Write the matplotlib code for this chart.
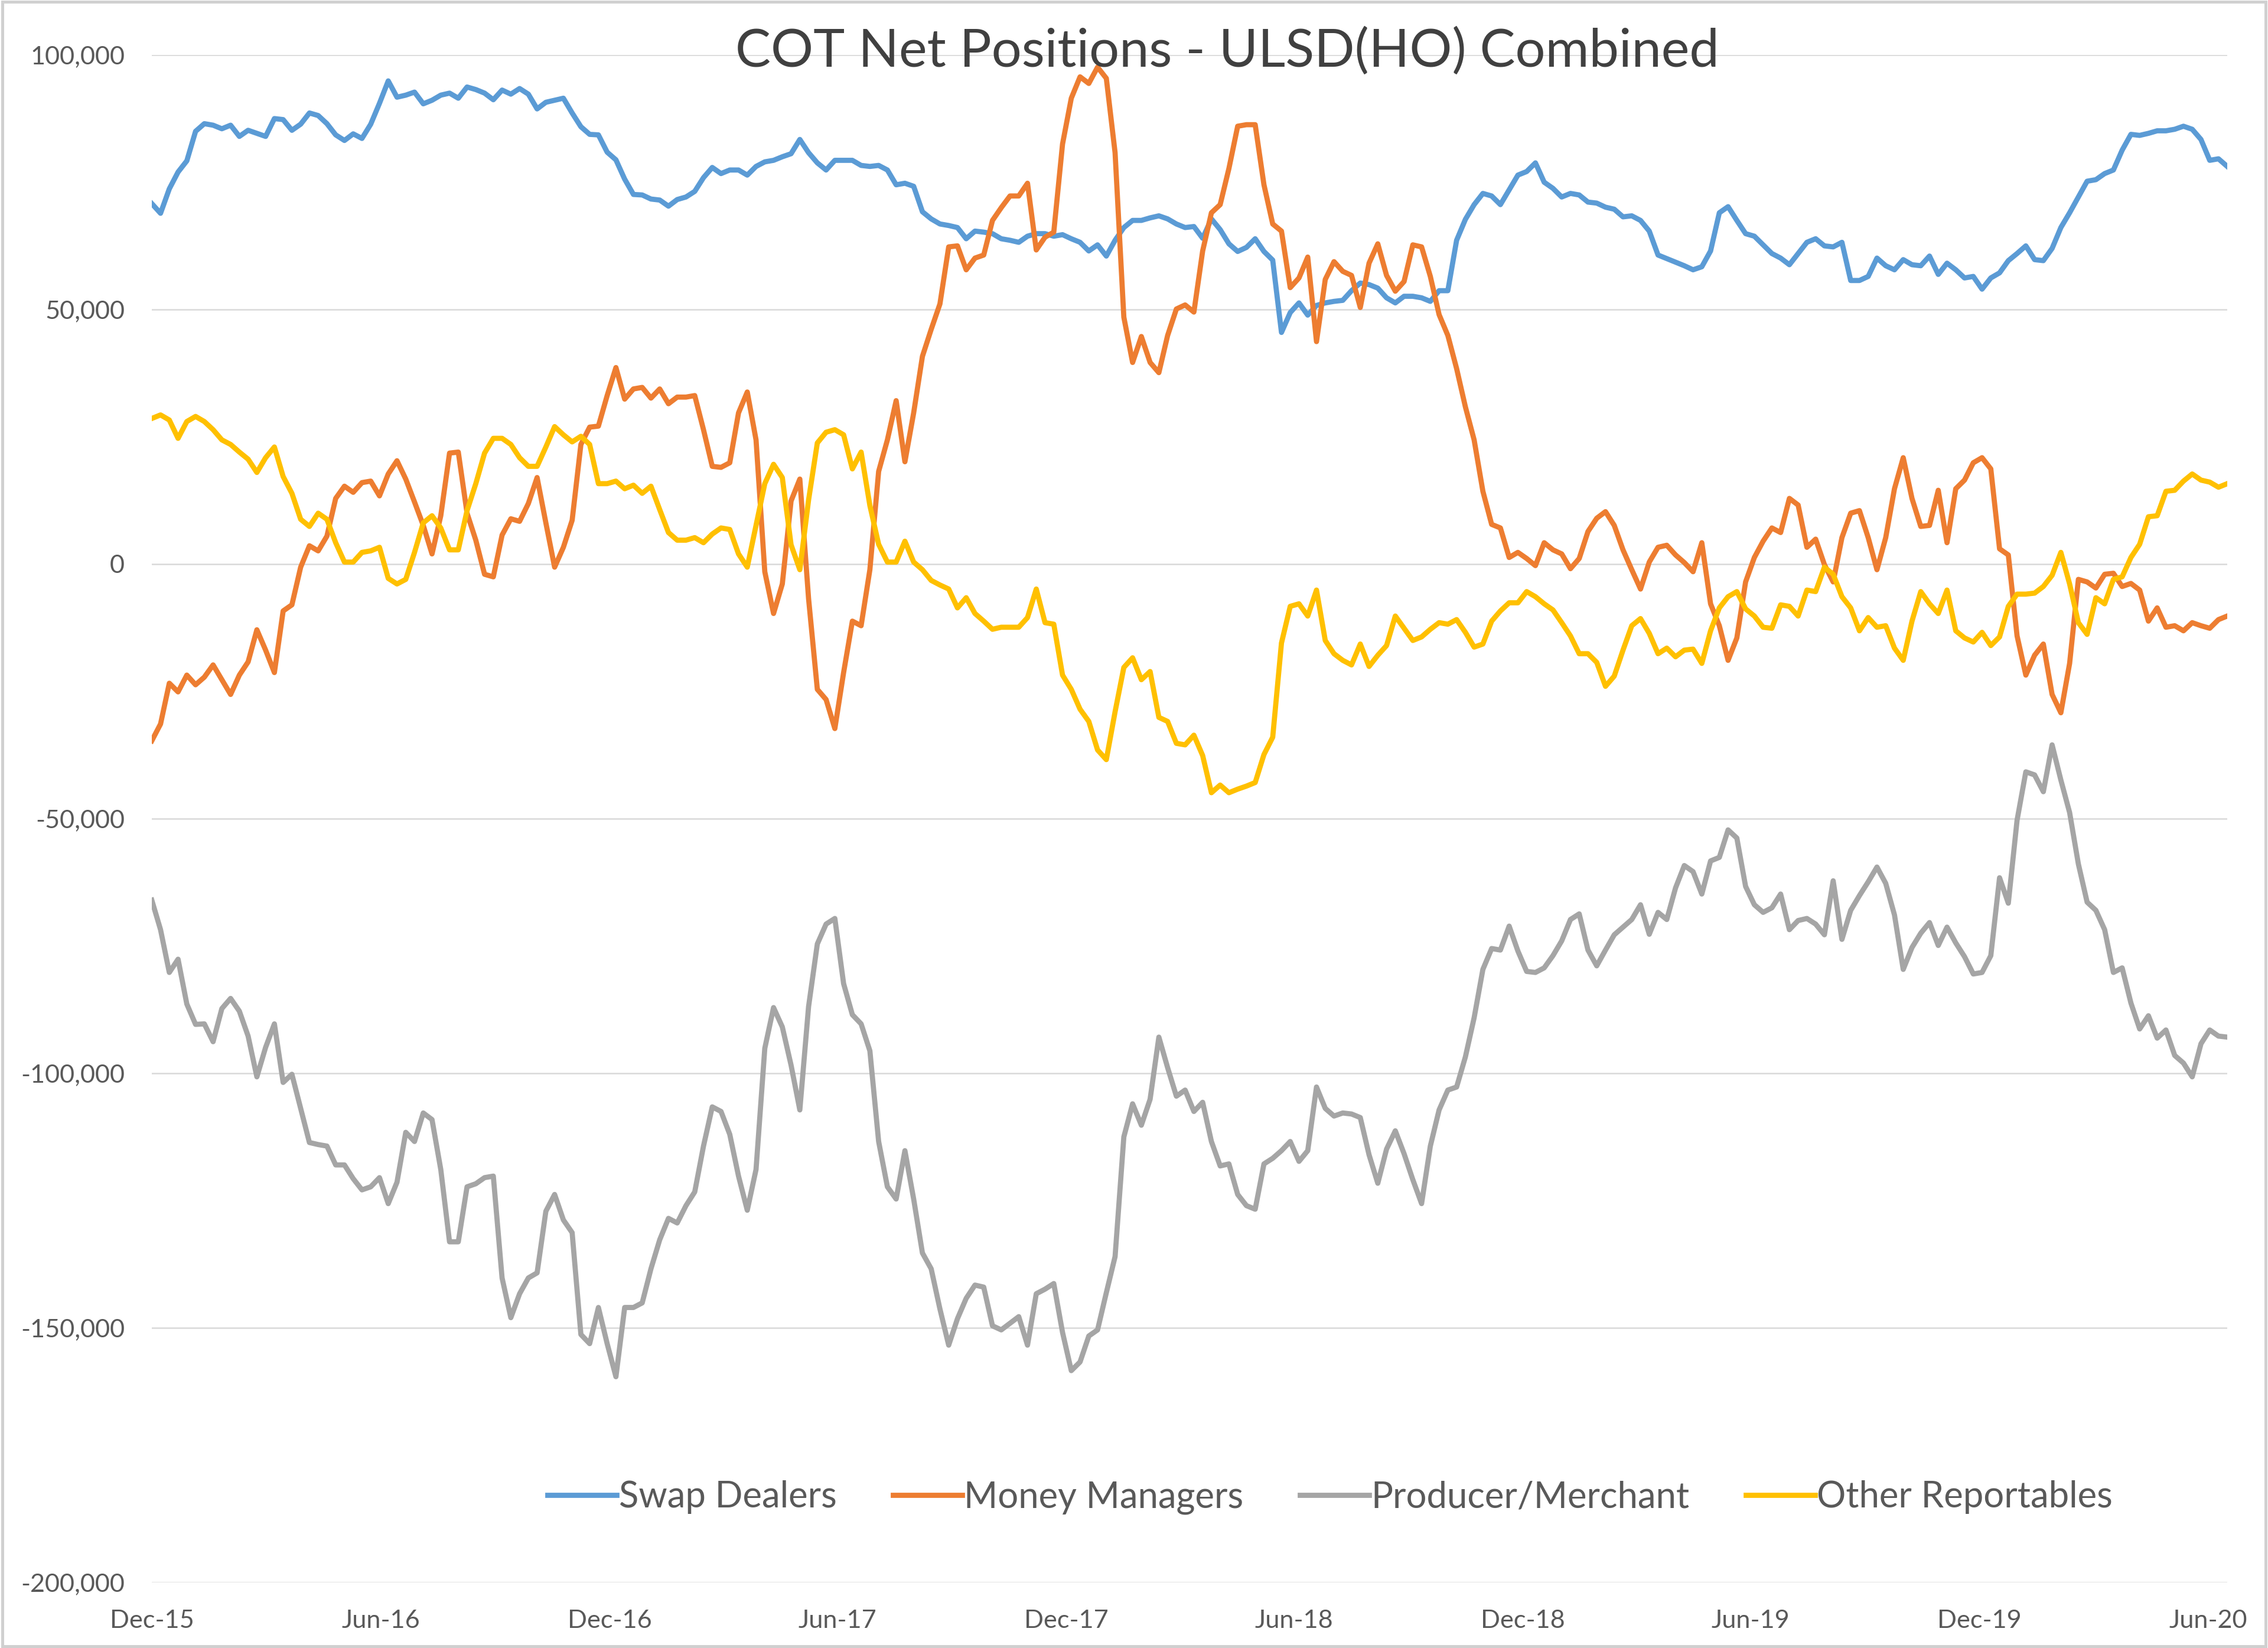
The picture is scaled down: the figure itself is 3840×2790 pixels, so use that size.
import numpy as np
import pandas as pd
import matplotlib
matplotlib.use("Agg")
import matplotlib.pyplot as plt
from matplotlib.ticker import FuncFormatter, MultipleLocator
from matplotlib.patches import Rectangle

# -----------------------------
# DATA (net positions, thousands of contracts, weekly from 1 Dec 2015)
# -----------------------------
start_date = "2015-12-01"

swap_dealers = [
    70.8, 68.9, 73.7, 77.0, 79.2, 85.0, 86.5, 86.2, 85.5, 86.2,
    84.0, 85.2, 84.6, 84.0, 87.5, 87.3, 85.2, 86.4, 88.6, 88.1,
    86.5, 84.3, 83.2, 84.5, 83.6, 86.4, 90.5, 94.9, 91.7, 92.1,
    92.7, 90.4, 91.1, 92.1, 92.5, 91.5, 93.7, 93.2, 92.5, 91.2,
    93.1, 92.3, 93.4, 92.3, 89.4, 90.7, 91.1, 91.5, 88.6, 85.9,
    84.4, 84.3, 80.9, 79.4, 75.6, 72.6, 72.5, 71.7, 71.5, 70.3,
    71.6, 72.1, 73.2, 75.9, 77.9, 76.7, 77.4, 77.4, 76.4, 78.1,
    79.0, 79.3, 80.0, 80.6, 83.4, 80.8, 78.8, 77.4, 79.3, 79.3,
    79.3, 78.3, 78.1, 78.3, 77.4, 74.5, 74.8, 74.2, 69.2, 67.8,
    66.8, 66.5, 66.1, 63.9, 65.4, 65.2, 64.9, 63.9, 63.6, 63.2,
    64.4, 64.9, 64.9, 64.4, 64.7, 63.9, 63.2, 61.5, 62.7, 60.5,
    63.6, 66.1, 67.5, 67.5, 68.0, 68.4, 67.8, 66.8, 66.1, 66.3,
    64.0, 67.8, 65.7, 62.9, 61.4, 62.2, 63.9, 61.4, 59.7, 45.5,
    49.4, 51.3, 48.9, 50.8, 51.3, 51.6, 51.8, 53.7, 55.2, 54.9,
    54.2, 52.3, 51.3, 52.6, 52.6, 52.3, 51.6, 53.7, 53.7, 63.6,
    67.7, 70.6, 72.8, 72.3, 70.6, 73.5, 76.4, 77.1, 78.8, 75.0,
    73.8, 72.1, 72.8, 72.5, 71.1, 70.9, 70.1, 69.7, 68.2, 68.4,
    67.5, 65.4, 60.7, 60.0, 59.3, 58.6, 57.8, 58.4, 61.5, 69.0,
    70.2, 67.5, 64.9, 64.4, 62.7, 61.0, 60.1, 58.8, 61.0, 63.2,
    63.9, 62.5, 62.3, 63.2, 55.7, 55.7, 56.5, 60.1, 58.6, 57.8,
    59.8, 58.8, 58.6, 60.5, 56.9, 59.1, 57.8, 56.2, 56.5, 54.0,
    56.2, 57.2, 59.6, 61.0, 62.5, 59.8, 59.6, 62.0, 66.1, 69.0,
    72.1, 75.2, 75.5, 76.7, 77.4, 81.3, 84.4, 84.2, 84.6, 85.1,
    85.1, 85.4, 86.0, 85.4, 83.4, 79.3, 79.6, 78.1,
]

money_managers = [
    -34.7, -31.4, -23.4, -25.1, -21.8, -23.7, -22.2, -19.8, -22.7, -25.6,
    -21.8, -19.2, -12.9, -16.9, -21.3, -9.2, -8.0, -0.6, 3.6, 2.6,
    5.5, 12.9, 15.3, 14.1, 16.0, 16.3, 13.4, 17.7, 20.3, 16.7,
    12.2, 7.6, 2.0, 9.5, 21.8, 22.0, 10.0, 4.7, -2.0, -2.5,
    5.7, 8.9, 8.4, 11.9, 17.0, 8.1, -0.6, 3.3, 8.6, 23.5,
    26.9, 27.1, 33.1, 38.6, 32.4, 34.4, 34.7, 32.6, 34.4, 31.5,
    32.8, 32.8, 33.1, 26.4, 19.2, 19.0, 19.9, 29.7, 33.8, 24.4,
    -1.5, -9.7, -3.9, 12.4, 16.7, -6.8, -24.6, -26.6, -32.3, -21.3,
    -11.2, -12.1, -1.1, 18.2, 24.4, 32.1, 20.1, 29.7, 40.8, 46.1,
    51.1, 62.3, 62.5, 57.8, 60.1, 60.7, 67.5, 70.0, 72.3, 72.3,
    74.8, 61.7, 64.2, 65.2, 82.5, 91.5, 95.7, 94.4, 97.6, 95.4,
    80.8, 48.5, 39.6, 44.7, 39.6, 37.6, 44.9, 50.1, 50.9, 49.5,
    61.5, 69.0, 70.6, 77.7, 86.0, 86.3, 86.3, 74.5, 66.8, 65.4,
    54.3, 56.2, 60.3, 43.7, 55.9, 59.4, 57.5, 56.7, 50.4, 59.1,
    62.9, 56.7, 53.6, 55.5, 62.7, 62.3, 56.5, 49.0, 44.9, 38.4,
    30.9, 24.4, 14.3, 7.8, 7.1, 1.3, 2.3, 1.1, -0.3, 4.2,
    2.8, 2.0, -0.9, 1.1, 6.4, 9.0, 10.3, 7.6, 2.8, -1.1,
    -4.9, 0.4, 3.3, 3.7, 1.8, 0.3, -1.5, 4.2, -7.8, -12.1,
    -18.9, -14.5, -3.5, 1.3, 4.5, 7.1, 6.2, 12.9, 11.6, 3.3,
    4.9, -0.1, -3.5, 5.2, 10.0, 10.5, 5.2, -1.1, 5.2, 14.8,
    20.9, 12.9, 7.4, 7.6, 14.5, 4.2, 14.8, 16.5, 19.9, 20.9,
    18.7, 3.0, 1.8, -14.1, -21.8, -17.9, -15.7, -25.6, -29.2, -19.5,
    -3.0, -3.5, -4.7, -2.0, -1.8, -4.4, -3.8, -5.1, -11.2, -8.6,
    -12.4, -12.1, -13.1, -11.5, -12.1, -12.6, -10.9, -10.2,
]

producer_merchant = [
    -66.0, -71.8, -80.2, -77.6, -86.4, -90.4, -90.3, -93.8, -87.3, -85.3,
    -87.8, -92.7, -100.7, -94.9, -90.3, -101.8, -100.2, -106.9, -113.6, -114.0,
    -114.3, -118.0, -118.0, -120.7, -122.9, -122.3, -120.5, -125.6, -121.4, -111.6,
    -113.4, -107.8, -109.1, -118.9, -133.1, -133.1, -122.3, -121.7, -120.5, -120.2,
    -140.2, -148.0, -143.3, -140.2, -139.2, -127.1, -123.8, -128.8, -131.3, -151.3,
    -153.1, -146.0, -153.1, -159.6, -146.0, -146.0, -145.1, -138.4, -132.7, -128.5,
    -129.4, -126.0, -123.3, -114.3, -106.6, -107.5, -112.0, -120.2, -126.9, -118.9,
    -95.1, -87.1, -90.9, -98.4, -107.2, -86.9, -74.6, -70.7, -69.6, -82.4,
    -88.5, -90.3, -95.6, -113.4, -122.3, -124.7, -115.2, -124.7, -135.3, -138.4,
    -146.3, -153.4, -148.2, -144.2, -141.6, -142.0, -149.6, -150.4, -149.1, -147.8,
    -153.4, -143.3, -142.4, -141.3, -150.9, -158.4, -156.7, -151.6, -150.4, -143.1,
    -136.0, -112.5, -106.0, -110.2, -105.1, -92.9, -98.9, -104.5, -103.3, -107.5,
    -105.7, -113.4, -118.2, -117.8, -123.8, -126.0, -126.7, -117.8, -116.7, -115.2,
    -113.4, -117.3, -115.2, -102.7, -106.9, -108.4, -107.8, -108.0, -108.7, -116.0,
    -121.6, -114.9, -111.3, -115.8, -120.9, -125.6, -114.3, -107.2, -103.3, -102.7,
    -96.8, -89.1, -79.6, -75.5, -75.8, -71.1, -76.0, -80.0, -80.2, -79.3,
    -76.9, -74.0, -69.8, -68.7, -75.8, -78.9, -75.8, -72.8, -71.3, -69.8,
    -66.9, -72.7, -68.4, -69.8, -63.6, -59.2, -60.4, -64.8, -58.3, -57.6,
    -52.2, -53.8, -63.3, -66.9, -68.4, -67.5, -64.8, -71.8, -70.0, -69.6,
    -70.7, -72.8, -62.2, -73.7, -68.0, -65.1, -62.4, -59.5, -62.7, -68.9,
    -79.6, -75.3, -72.5, -70.4, -74.9, -71.3, -74.4, -77.1, -80.5, -80.2,
    -76.9, -61.6, -66.6, -50.3, -40.8, -41.4, -44.7, -35.5, -42.4, -48.8,
    -58.9, -66.4, -68.0, -71.8, -80.2, -79.3, -86.2, -91.3, -88.7, -93.1,
    -91.5, -96.5, -98.0, -100.7, -94.2, -91.5, -92.7, -92.9,
]

other_reportables = [
    28.6, 29.3, 28.3, 24.7, 28.0, 29.0, 28.0, 26.4, 24.4, 23.5,
    22.0, 20.6, 18.0, 20.9, 23.0, 17.2, 13.9, 8.8, 7.4, 10.0,
    8.8, 4.2, 0.4, 0.4, 2.3, 2.6, 3.3, -2.8, -3.9, -3.0,
    2.3, 8.1, 9.5, 7.1, 2.8, 2.8, 10.5, 15.8, 21.8, 24.7,
    24.7, 23.5, 20.9, 19.2, 19.2, 23.0, 27.0, 25.4, 24.0, 25.1,
    23.5, 15.8, 15.8, 16.3, 14.8, 15.5, 13.9, 15.3, 10.7, 6.2,
    4.7, 4.7, 5.2, 4.2, 5.9, 7.1, 6.8, 2.0, -0.6, 7.6,
    15.8, 19.6, 17.0, 3.8, -1.1, 12.6, 23.8, 25.9, 26.4, 25.4,
    18.7, 22.0, 11.5, 3.9, 0.4, 0.4, 4.5, 0.4, -1.1, -3.2,
    -4.1, -4.9, -8.6, -6.6, -9.7, -11.2, -12.8, -12.4, -12.4, -12.4,
    -10.5, -4.9, -11.5, -11.8, -21.8, -24.6, -28.5, -30.9, -36.5, -38.4,
    -29.0, -20.3, -18.4, -22.7, -21.1, -30.1, -30.9, -35.2, -35.5, -33.6,
    -37.6, -44.9, -43.4, -44.9, -44.2, -43.6, -42.9, -37.4, -34.0, -15.5,
    -8.3, -7.8, -10.2, -5.1, -15.0, -17.6, -18.9, -19.8, -15.7, -20.1,
    -17.9, -16.0, -10.2, -12.6, -15.0, -14.3, -12.8, -11.5, -11.8, -10.9,
    -13.4, -16.3, -15.7, -11.2, -9.2, -7.6, -7.6, -5.4, -6.4, -7.8,
    -9.0, -11.5, -14.1, -17.6, -17.6, -19.3, -24.0, -22.0, -16.9, -12.1,
    -10.7, -13.6, -17.6, -16.5, -18.2, -16.9, -16.7, -19.5, -13.1, -8.6,
    -6.4, -5.4, -8.8, -10.2, -12.4, -12.6, -8.0, -8.3, -10.2, -5.1,
    -5.4, -0.6, -2.0, -6.4, -8.6, -13.1, -10.5, -12.4, -12.1, -16.5,
    -18.9, -11.2, -5.4, -7.8, -9.7, -5.1, -13.1, -14.5, -15.3, -13.4,
    -16.0, -14.3, -8.3, -5.9, -5.9, -5.7, -4.4, -2.2, 2.3, -3.9,
    -11.5, -13.8, -6.6, -7.8, -3.0, -2.5, 1.3, 3.9, 9.3, 9.5,
    14.3, 14.5, 16.3, 17.7, 16.5, 16.1, 15.1, 15.8,
]

series_names = ["Swap Dealers", "Money Managers", "Producer/Merchant", "Other Reportables"]
series_colors = ["#5B9BD5", "#ED7D31", "#A5A5A5", "#FFC000"]
series_values = [swap_dealers, money_managers, producer_merchant, other_reportables]

title = "COT Net Positions - ULSD(HO) Combined"
tick_dates = pd.date_range("2015-12-01", "2020-06-01", freq="6MS")

dates = pd.date_range(start_date, periods=len(swap_dealers), freq="7D")

# -----------------------------
# PLOT
# -----------------------------
plt.rcParams["font.family"] = ["Lato", "DejaVu Sans"]
text_color = "#595959"

W, H = 3840, 2790
fig = plt.figure(figsize=(W / 300, H / 300), dpi=300)
ax = fig.add_axes([257 / W, 1 - 2679 / H, (3771 - 257) / W, (2679 - 93) / H])

lines = []
for name, color, vals in zip(series_names, series_colors, series_values):
    ln, = ax.plot(dates, np.array(vals) * 1000, color=color, lw=2.1,
                  solid_joinstyle="round", label=name)
    lines.append(ln)

ax.set_xlim(dates[0], dates[-1])
ax.set_ylim(-200000, 100000)
ax.yaxis.set_major_locator(MultipleLocator(50000))
ax.yaxis.set_major_formatter(FuncFormatter(lambda v, p: f"{v:,.0f}"))
ax.set_xticks(tick_dates)
ax.set_xticklabels([d.strftime("%b-%y") for d in tick_dates])

ax.grid(axis="y", color="#d9d9d9", lw=0.6)
ax.set_axisbelow(True)
for s in ax.spines.values():
    s.set_visible(False)
ax.tick_params(axis="both", length=0, labelsize=10.4, labelcolor=text_color)
ax.tick_params(axis="y", pad=11)
ax.tick_params(axis="x", pad=11)

fig.text(2078 / W, 1 - 113 / H, title, ha="center", va="baseline",
         fontsize=21.6, color="#404040")

fig.legend(lines, series_names, loc="center", bbox_to_anchor=(2252 / W, 1 - 2535 / H),
           ncol=4, frameon=False, fontsize=14.8, handlelength=1.9,
           handletextpad=0.05, columnspacing=1.55, labelcolor=text_color)

# chart border
fig.patches.append(Rectangle((0.001, 0.001), 0.998, 0.998, transform=fig.transFigure,
                             fill=False, edgecolor="#d0d0d0", lw=1.2))

plt.savefig("out.png", dpi=300, facecolor="white")
